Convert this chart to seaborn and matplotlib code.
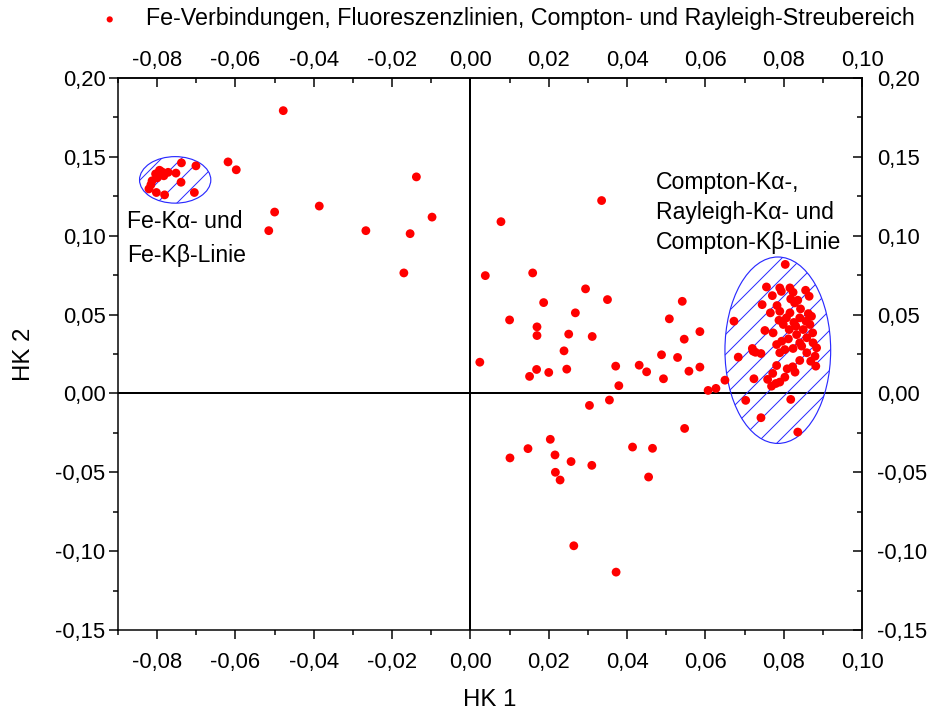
import matplotlib
matplotlib.use("Agg")
import matplotlib.pyplot as plt
from matplotlib.patches import Ellipse
from matplotlib.ticker import MultipleLocator, FuncFormatter
import seaborn as sns
import pandas as pd

# Principal component scores (HK 1 / HK 2) of the spectra
# Fe-Kα/Kβ fluorescence lines
fe_hk1 = [-0.0738, -0.0701, -0.0752, -0.0772, -0.0794, -0.0739, -0.0705, -0.0781,
          -0.0802, -0.0821, -0.0813, -0.0804, -0.0816, -0.0800, -0.0788, -0.0783]
fe_hk2 = [0.1462, 0.1443, 0.1397, 0.1402, 0.1415, 0.1339, 0.1274, 0.1259,
          0.1274, 0.1297, 0.1348, 0.1392, 0.1323, 0.1367, 0.1405, 0.1380]

# Fe compounds (upper left)
upper_hk1 = [-0.0478, -0.0619, -0.0598, -0.0138, -0.0500, -0.0386, -0.0515, -0.0267,
             -0.0098, -0.0154, -0.0170]
upper_hk2 = [0.1793, 0.1468, 0.1418, 0.1373, 0.1150, 0.1188, 0.1032, 0.1032,
             0.1118, 0.1013, 0.0764]

# Transition region between the groups
mid_hk1 = [0.0335, 0.0078, 0.0038, 0.0159, 0.0294, 0.0350, 0.0541, 0.0187, 0.0268,
           0.0100, 0.0508, 0.0170, 0.0586, 0.0546, 0.0170, 0.0251, 0.0311, 0.0239,
           0.0488, 0.0529, 0.0024, 0.0431, 0.0371, 0.0586, 0.0169, 0.0246, 0.0450,
           0.0558, 0.0200, 0.0151, 0.0493, 0.0379, 0.0607, 0.0627, 0.0355, 0.0304,
           0.0650]
mid_hk2 = [0.1223, 0.1089, 0.0747, 0.0764, 0.0663, 0.0595, 0.0584, 0.0576, 0.0511,
           0.0466, 0.0473, 0.0422, 0.0392, 0.0344, 0.0367, 0.0376, 0.0361, 0.0270,
           0.0245, 0.0228, 0.0198, 0.0179, 0.0173, 0.0167, 0.0152, 0.0154, 0.0137,
           0.0141, 0.0133, 0.0108, 0.0093, 0.0049, 0.0019, 0.0032, -0.0042, -0.0076,
           0.0084]

# Negative HK 2 scores
low_hk1 = [0.0204, 0.0147, 0.0101, 0.0216, 0.0257, 0.0310, 0.0217, 0.0229, 0.0414,
           0.0465, 0.0455, 0.0264, 0.0372, 0.0547]
low_hk2 = [-0.0291, -0.0350, -0.0409, -0.0390, -0.0432, -0.0456, -0.0500, -0.0549,
           -0.0340, -0.0348, -0.0530, -0.0966, -0.1133, -0.0222]

# Compton-Kα, Rayleigh-Kα and Compton-Kβ scattering
scat_hk1 = [0.0804, 0.0756, 0.0790, 0.0794, 0.0816, 0.0824, 0.0856, 0.0865, 0.0771,
            0.0818, 0.0836, 0.0828, 0.0745, 0.0783, 0.0766, 0.0790, 0.0816, 0.0843,
            0.0863, 0.0807, 0.0788, 0.0841, 0.0857, 0.0673, 0.0867, 0.0831, 0.0850,
            0.0814, 0.0799, 0.0752, 0.0773, 0.0874, 0.0833, 0.0859, 0.0812, 0.0795,
            0.0782, 0.0841, 0.0875, 0.0884, 0.0720, 0.0728, 0.0742, 0.0803, 0.0824,
            0.0790, 0.0859, 0.0880, 0.0684, 0.0869, 0.0841, 0.0882, 0.0782, 0.0809,
            0.0823, 0.0829, 0.0772, 0.0803, 0.0790, 0.0724, 0.0759, 0.0780, 0.0769,
            0.0703, 0.0818, 0.0742, 0.0836, 0.0722, 0.0871, 0.0846, 0.0826]
scat_hk2 = [0.0818, 0.0675, 0.0669, 0.0647, 0.0669, 0.0641, 0.0654, 0.0616, 0.0620,
            0.0599, 0.0591, 0.0574, 0.0563, 0.0557, 0.0511, 0.0521, 0.0511, 0.0536,
            0.0506, 0.0479, 0.0464, 0.0479, 0.0458, 0.0458, 0.0437, 0.0426, 0.0405,
            0.0405, 0.0437, 0.0399, 0.0384, 0.0384, 0.0373, 0.0353, 0.0346, 0.0331,
            0.0310, 0.0321, 0.0321, 0.0289, 0.0285, 0.0261, 0.0253, 0.0278, 0.0285,
            0.0258, 0.0258, 0.0236, 0.0230, 0.0204, 0.0209, 0.0173, 0.0177, 0.0156,
            0.0169, 0.0135, 0.0127, 0.0103, 0.0072, 0.0093, 0.0089, 0.0063, 0.0046,
            -0.0044, -0.0038, -0.0154, -0.0245, 0.0268, 0.0489, 0.0300, 0.0450]

legend_label = "Fe-Verbindungen, Fluoreszenzlinien, Compton- und Rayleigh-Streubereich"
x_label = "HK 1"
y_label = "HK 2"
fe_text = ["Fe-K\u03b1- und", "Fe-K\u03b2-Linie"]
scat_text = ["Compton-K\u03b1-,", "Rayleigh-K\u03b1- und", "Compton-K\u03b2-Linie"]

scores = pd.DataFrame({
    "HK 1": fe_hk1 + upper_hk1 + mid_hk1 + low_hk1 + scat_hk1,
    "HK 2": fe_hk2 + upper_hk2 + mid_hk2 + low_hk2 + scat_hk2,
})

sns.set_theme(style="white")
plt.rcParams["font.family"] = ["Liberation Sans", "DejaVu Sans"]
plt.rcParams["hatch.linewidth"] = 1.2
for key in ("text.color", "axes.labelcolor", "xtick.color", "ytick.color", "axes.edgecolor"):
    plt.rcParams[key] = "black"

DPI = 60
fig = plt.figure(figsize=(932 / DPI, 713 / DPI), dpi=DPI)
ax = fig.add_axes([118 / 932, 83 / 713, 744 / 932, 552 / 713])

ax.set_xlim(-0.09, 0.10)
ax.set_ylim(-0.15, 0.20)

# cross through the origin
ax.axhline(0, color="black", lw=2.4, zorder=2)
ax.axvline(0, color="black", lw=2.4, zorder=2)

# hatched ellipses marking the two line groups
blue = "#2a2aff"
ax.add_patch(Ellipse((-0.0754, 0.1354), width=0.0182, height=0.0295,
                     facecolor="none", edgecolor=blue, hatch="/", lw=1.4, zorder=3))
ax.add_patch(Ellipse((0.0785, 0.0274), width=0.0270, height=0.1182,
                     facecolor="none", edgecolor=blue, hatch="/", lw=1.4, zorder=3))

sns.scatterplot(data=scores, x="HK 1", y="HK 2", ax=ax, color="#ff0000", s=112,
                edgecolor="none", linewidth=0, label=legend_label, zorder=4)

fmt = FuncFormatter(lambda v, p: f"{0.0 if abs(v) < 1e-9 else v:.2f}".replace(".", ","))
FS = 26.4

for spine in ax.spines.values():
    spine.set_linewidth(1.8)
    spine.set_color("black")

ax.xaxis.set_major_locator(MultipleLocator(0.02))
ax.xaxis.set_minor_locator(MultipleLocator(0.01))
ax.yaxis.set_major_locator(MultipleLocator(0.05))
ax.yaxis.set_minor_locator(MultipleLocator(0.025))
ax.xaxis.set_major_formatter(fmt)
ax.yaxis.set_major_formatter(fmt)
ax.tick_params(which="both", direction="out", width=1.8, colors="black",
               labelsize=FS, bottom=True, left=True, top=False, right=False)
ax.tick_params(which="major", length=11)
ax.tick_params(which="minor", length=6)
ax.tick_params(axis="x", which="major", pad=15)
ax.tick_params(axis="y", which="major", pad=4)

secx = ax.secondary_xaxis("top")
secx.xaxis.set_major_locator(MultipleLocator(0.02))
secx.xaxis.set_minor_locator(MultipleLocator(0.01))
secx.xaxis.set_major_formatter(fmt)
secx.tick_params(which="both", direction="in", width=1.8, labelsize=FS, colors="black")
secx.tick_params(which="major", length=11, pad=8)
secx.tick_params(which="minor", length=6)
secx.spines["top"].set_linewidth(1.8)

secy = ax.secondary_yaxis("right")
secy.yaxis.set_major_locator(MultipleLocator(0.05))
secy.yaxis.set_minor_locator(MultipleLocator(0.025))
secy.yaxis.set_major_formatter(fmt)
secy.tick_params(which="both", direction="in", width=1.8, labelsize=FS, colors="black")
secy.tick_params(which="major", length=11, pad=18)
secy.tick_params(which="minor", length=6)
secy.spines["right"].set_linewidth(1.8)

ax.set_xlabel(x_label, fontsize=28.8, labelpad=20)
ax.set_ylabel(y_label, fontsize=28.8, labelpad=24)

# group annotations
for i, line in enumerate(fe_text):
    ax.text(-0.0877, [0.1051, 0.0835][i], line, fontsize=27.6, ha="left",
            va="baseline", zorder=5)
for i, line in enumerate(scat_text):
    ax.text(0.0473, [0.1297, 0.1108, 0.0918][i], line, fontsize=27.6, ha="left",
            va="baseline", zorder=5)

ax.legend(loc="center", bbox_to_anchor=(0.537, 1 - 19 / 713), bbox_transform=fig.transFigure,
          frameon=False, fontsize=27.9, markerscale=0.7, handletextpad=0.55,
          borderaxespad=0, borderpad=0)

fig.savefig("out.png", dpi=DPI)
